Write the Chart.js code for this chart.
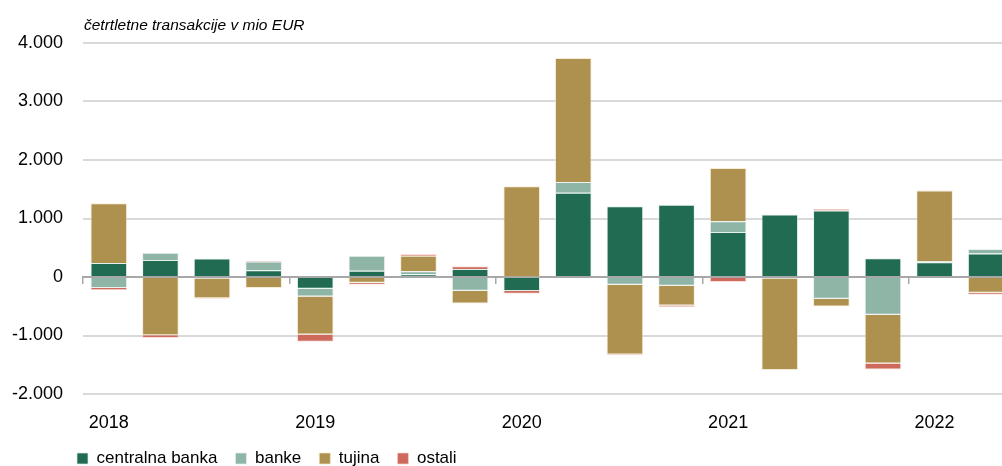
<!DOCTYPE html>
<html><head><meta charset="utf-8">
<script src="https://cdn.jsdelivr.net/npm/chart.js@4"></script>
<style>
html,body{margin:0;padding:0;overflow:hidden;background:#fff;width:1002px;height:466px}
#wrap{position:relative;width:1012px;height:466px}
</style></head><body>
<div id="wrap"><canvas id="c"></canvas></div>
<script>
const categories = ['2018 Q1','2018 Q2','2018 Q3','2018 Q4','2019 Q1','2019 Q2','2019 Q3','2019 Q4','2020 Q1','2020 Q2','2020 Q3','2020 Q4','2021 Q1','2021 Q2','2021 Q3','2021 Q4','2022 Q1','2022 Q2'];
const xTickLabels = ['2018','','','','2019','','','','2020','','','','2021','','','','2022',''];
const centralnaBanka = [240, 290, 318, 114, -199, 108, 45, 136, -240, 1440, 1211, 1234, 771, 1069, 1137, 320, 251, 400];
const banke = [-188, 125, -25, 153, -136, 256, 52, -233, 10, 183, -131, -149, 183, -25, -371, -646, 18, 80];
const tujina = [1020, -994, -340, -188, -648, -97, 267, -222, 1540, 2120, -1195, -337, 909, -1565, -132, -834, 1211, -269];
const ostali = [-40, -50, -5, 11, -125, -34, 28, 46, -46, -15, -11, -28, -86, 0, 29, -103, 5, -34];
const yTickLabels = ['-2.000','-1.000','0','1.000','2.000','3.000','4.000'];
const seriesNames = ['centralna banka','banke','tujina','ostali'];
const titleText = 'četrtletne transakcije v mio EUR';

const FONT = "'Liberation Sans',Arial,sans-serif";
const colors = ['#206b52','#8fb5a6','#ae914e','#cd6a5c'];
const borders = ['rgba(220,235,228,0.7)','rgba(225,238,232,0.7)','rgba(240,228,200,0.7)','rgba(245,210,205,0.7)'];
const seriesData = [centralnaBanka, banke, tujina, ostali];

const titlePlugin = {
  id: 'topTitle',
  afterDraw(chart) {
    const ctx = chart.ctx, a = chart.chartArea;
    ctx.save();
    ctx.font = "italic 15.5px " + FONT;
    ctx.fillStyle = '#000';
    ctx.textBaseline = 'alphabetic';
    ctx.textAlign = 'left';
    ctx.fillText(titleText, a.left + 1, a.top - 13);
    ctx.restore();
  }
};
const legendShift = {
  id: 'legendShift',
  afterLayout(chart) {
    const lg = chart.legend;
    if (!lg) return;
    const dx = chart.chartArea.left - 6 - (lg.left + lg.options.labels.padding);
    lg.left += dx; lg.right += dx;
  }
};

new Chart(document.getElementById('c'), {
  type: 'bar',
  data: {
    labels: categories,
    datasets: seriesData.map((d, i) => ({
      label: seriesNames[i],
      data: d,
      backgroundColor: colors[i],
      borderColor: borders[i],
      borderWidth: 1,
      barPercentage: 0.71,
      categoryPercentage: 1
    }))
  },
  options: {
    responsive: true,
    maintainAspectRatio: false,
    devicePixelRatio: 1,
    animation: false,
    layout: { padding: { top: 43, left: 0, right: 0, bottom: -11 } },
    plugins: {
      legend: {
        position: 'bottom',
        align: 'start',
        labels: {
          boxWidth: 11, boxHeight: 11, padding: 18, color: '#000',
          font: { family: FONT, size: 17 }
        }
      },
      tooltip: { enabled: false },
      title: { display: false }
    },
    scales: {
      x: {
        stacked: true,
        grid: { display: false },
        border: { display: false },
        ticks: {
          autoSkip: false, maxRotation: 0, color: '#000', padding: 10,
          font: { family: FONT, size: 18 },
          callback: (v, i) => xTickLabels[i]
        },
        afterFit: s => { s.height = 38; }
      },
      xz: {
        type: 'category',
        position: { y: 0 },
        offset: true,
        grid: {
          offset: true, drawOnChartArea: false, drawTicks: true, tickLength: 6, lineWidth: 1.5,
          color: c => (c.index % 4 === 0 ? '#a8a8a8' : 'rgba(0,0,0,0)')
        },
        border: { display: true, color: '#a8a8a8', width: 2 },
        ticks: { display: false }
      },
      y: {
        stacked: true,
        min: -2000, max: 4000,
        ticks: {
          stepSize: 1000, color: '#000', padding: 20,
          font: { family: FONT, size: 18 },
          callback: (v, i) => yTickLabels[i]
        },
        grid: {
          drawTicks: false, lineWidth: 2,
          color: c => (c.tick && c.tick.value === 0 ? '#a8a8a8' : '#d9d9d9')
        },
        border: { display: false },
        afterFit: s => { s.width = 83; }
      }
    }
  },
  plugins: [titlePlugin, legendShift]
});
</script>
</body></html>
